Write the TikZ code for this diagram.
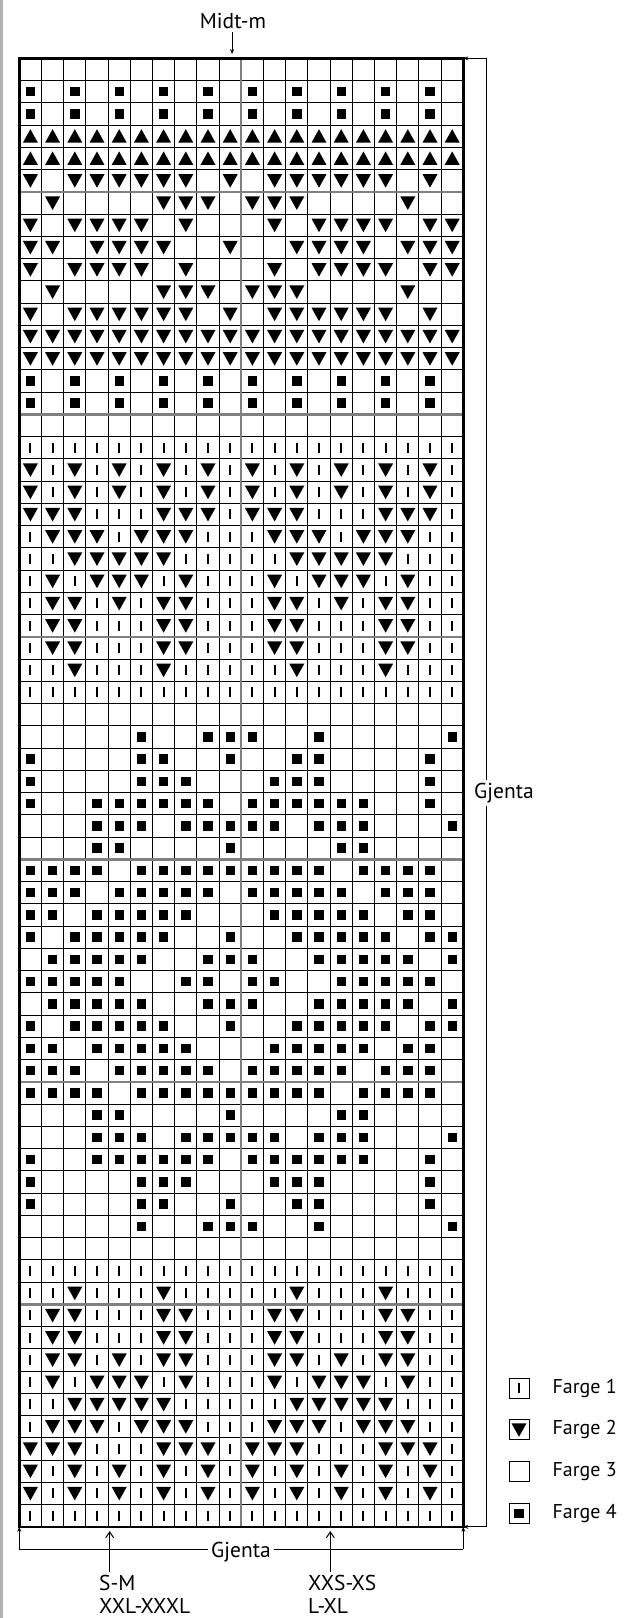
\documentclass[tikz,border=0pt]{standalone}
\usepackage{fontspec}
\setmainfont{PT Sans}
\usetikzlibrary{arrows.meta,positioning}

% chart cells: o empty, s square, v down, u up, l bar
\makeatletter
\def\chartrow#1#2{\def\rowno{#1}\def\colno{0}\expandafter\chart@cells#2\@nil}
\def\chart@cells#1{%
  \ifx#1\@nil\else
    \chart@mark{#1}%
    \pgfmathtruncatemacro\colno{\colno+1}%
    \expandafter\chart@cells
  \fi}
\def\chart@mark#1{%
  \coordinate (c) at ({19.3+22.2*(\colno+0.5)},{58.3+22.25*(\rowno-0.5)});
  \if#1s\pic at (c) {sqmark};\fi
  \if#1v\pic at (c) {dnmark};\fi
  \if#1u\pic at (c) {upmark};\fi
  \if#1l\pic at (c) {barmark};\fi}
\makeatother

\begin{document}
\begin{tikzpicture}[
  x=1pt, y=-1pt,
  lbl/.style={font=\fontsize{21.5}{25}\selectfont, inner sep=3pt},
  lgtext/.style={lbl, font=\fontsize{20}{24}\selectfont},
  pil/.style={-{Stealth[length=5pt,width=4pt]}, line width=0.8pt},
  openpil/.style={-{Straight Barb[length=6pt,width=8pt]}, line width=1pt},
  cellline/.style={line width=1.1pt},
  sepline/.style={line width=2.6pt, draw=black!50},
  midline/.style={line width=1.8pt, draw=black!50},
  frame/.style={line width=2.4pt},
  lgbox/.style={draw, line width=0.8pt, minimum size=20pt, inner sep=0pt},
  sqmark/.pic={\fill (-4.7,-4.7) rectangle (4.7,4.7);},
  dnmark/.pic={\fill (-7.5,-6.5) -- (7.5,-6.5) -- (0,7) -- cycle;},
  upmark/.pic={\fill (-7.5,6.5) -- (7.5,6.5) -- (0,-7) -- cycle;},
  barmark/.pic={\fill (-1,-5) rectangle (1,5);}
]
\useasboundingbox (0,0) rectangle (627,1618);
\draw[line width=2.5pt, draw=black!30] (1.5,0) -- (1.5,1618);

%% chart symbols, row 1 at the top
\foreach \rownum/\rowpat in {
  1/oooooooooooooooooooo, 2/sosososososososososo, 3/sosososososososososo,
  4/uuuuuuuuuuuuuuuuuuuu, 5/uuuuuuuuuuuuuuuuuuuu, 6/vovvvvvvovovvvvvvovo,
  7/ovoooovvvovvvoooovoo, 8/vovvvvovooovovvvvovv, 9/vvovvvvoovoovvvvovvv,
  10/vovvvvovooovovvvvovv, 11/ovoooovvvovvvoooovoo, 12/vovvvvvvovovvvvvvovo,
  13/vvvvvvvvvvvvvvvvvvvv, 14/vvvvvvvvvvvvvvvvvvvv, 15/sosososososososososo,
  16/sosososososososososo, 17/oooooooooooooooooooo, 18/llllllllllllllllllll,
  19/vlvlvlvlvlvlvlvlvlvl, 20/vlvlvlvlvlvlvlvlvlvl, 21/vvvlllvvvlvvvlllvvvl,
  22/lvvvlvvvlllvvvlvvvll, 23/llvvvvvlllllvvvvvlll, 24/lvlvvvlvlllvlvvvlvll,
  25/lvvlvlvvlllvvlvlvvll, 26/lvvlllvvlllvvlllvvll, 27/lvvlllvvlllvvlllvvll,
  28/llvlllvlllllvlllvlll, 29/llllllllllllllllllll, 30/oooooooooooooooooooo,
  31/ooooosoosssoosooooos, 32/soooossoosoossooooso, 33/soooosssooosssooooso,
  34/soossssssossssssooso, 35/ooosssosssssosssooos, 36/ooossoooosoooossoooo,
  37/ssssosssssssssosssso, 38/sssosssssosssssossso, 39/ssosssssooosssssosso,
  40/sosssssoosoosssssoss, 41/osssssoosssoosssssos, 42/sssssoossossoossssso,
  43/osssssoosssoosssssos, 44/sosssssoosoosssssoss, 45/ssosssssooosssssosso,
  46/sssosssssosssssossso, 47/ssssosssssssssosssso, 48/ooossoooosoooossoooo,
  49/ooosssosssssosssooos, 50/soossssssossssssooso, 51/soooosssooosssooooso,
  52/soooossoosoossooooso, 53/ooooosoosssoosooooos, 54/oooooooooooooooooooo,
  55/llllllllllllllllllll, 56/llvlllvlllllvlllvlll, 57/lvvlllvvlllvvlllvvll,
  58/lvvlllvvlllvvlllvvll, 59/lvvlvlvvlllvvlvlvvll, 60/lvlvvvlvlllvlvvvlvll,
  61/llvvvvvlllllvvvvvlll, 62/lvvvlvvvlllvvvlvvvll, 63/vvvlllvvvlvvvlllvvvl,
  64/vlvlvlvlvlvlvlvlvlvl, 65/vlvlvlvlvlvlvlvlvlvl, 66/llllllllllllllllllll}
  {\chartrow{\rownum}{\rowpat}}

%% grid
\coordinate (nw) at (19.3,58.3);
\coordinate (ne) at (463.3,58.3);
\coordinate (sw) at (19.3,1526.8);
\coordinate (se) at (463.3,1526.8);
\foreach \i in {1,...,19}
  \draw[cellline] ({19.3+22.2*\i},58.3) -- ++(0,1468.5);
\foreach \j in {1,...,65}
  \draw[cellline] (19.3,{58.3+22.25*\j}) -- ++(444,0);
\foreach \j in {6,16,...,56}
  \draw[sepline] (19.3,{58.3+22.25*\j}) -- ++(444,0);
\draw[midline] (241.3,58.3) -- (241.3,1526.8);
\draw[frame] (nw) rectangle (se);

%% centre mark
\node[lbl] (midt) at (233,21) {Midt-m};
\coordinate (midt-tip) at (232,54);
\draw[pil] (midt.south -| midt-tip) -- (midt-tip);

%% repeat, right side
\coordinate (rtop) at (486,58.3);
\coordinate (rbot) at (486,1526.8);
\draw[line width=0.8pt] (rtop) -- (rbot);
\draw[pil] (rtop) -- (ne);
\draw[pil] (rbot) -- (se);
\node[lbl, fill=white, anchor=base west] (gjenta-r) at (471,798) {Gjenta};

%% repeat, bottom
\coordinate (bl) at (19.3,1549);
\coordinate (br) at (463.3,1549);
\draw[line width=0.8pt] (bl) -- (br);
\draw[pil] (bl) -- (sw);
\draw[pil] (br) -- (se);
\node[lbl, fill=white, anchor=base] (gjenta-b) at (241,1557) {Gjenta};

%% sizes
\node[lbl, anchor=base west] (sm) at (96,1590) {S-M};
\node[lbl, anchor=base west] (xxl) at (96,1613) {XXL-XXXL};
\coordinate (sm-tip) at (109.7,1531);
\draw[openpil] (sm.north -| sm-tip) -- (sm-tip);
\node[lbl, anchor=base west] (xxs) at (305,1590) {XXS-XS};
\node[lbl, anchor=base west] (lxl) at (305,1613) {L-XL};
\coordinate (xxs-tip) at (330.3,1531);
\draw[openpil] (xxs.north -| xxs-tip) -- (xxs-tip);

%% legend
\node[lgbox] (f1) at (519,1388) {};
\node[lgbox, below=21pt of f1] (f2) {};
\node[lgbox, below=21pt of f2] (f3) {};
\node[lgbox, below=21pt of f3] (f4) {};
\pic at (f1) {barmark};
\pic at (f2) {dnmark};
\pic at (f4) {sqmark};
\node[lgtext, right=20pt of f1] (t1) {Farge 1};
\node[lgtext, right=20pt of f2] (t2) {Farge 2};
\node[lgtext, right=20pt of f3] (t3) {Farge 3};
\node[lgtext, right=20pt of f4] (t4) {Farge 4};

\end{tikzpicture}
\end{document}
